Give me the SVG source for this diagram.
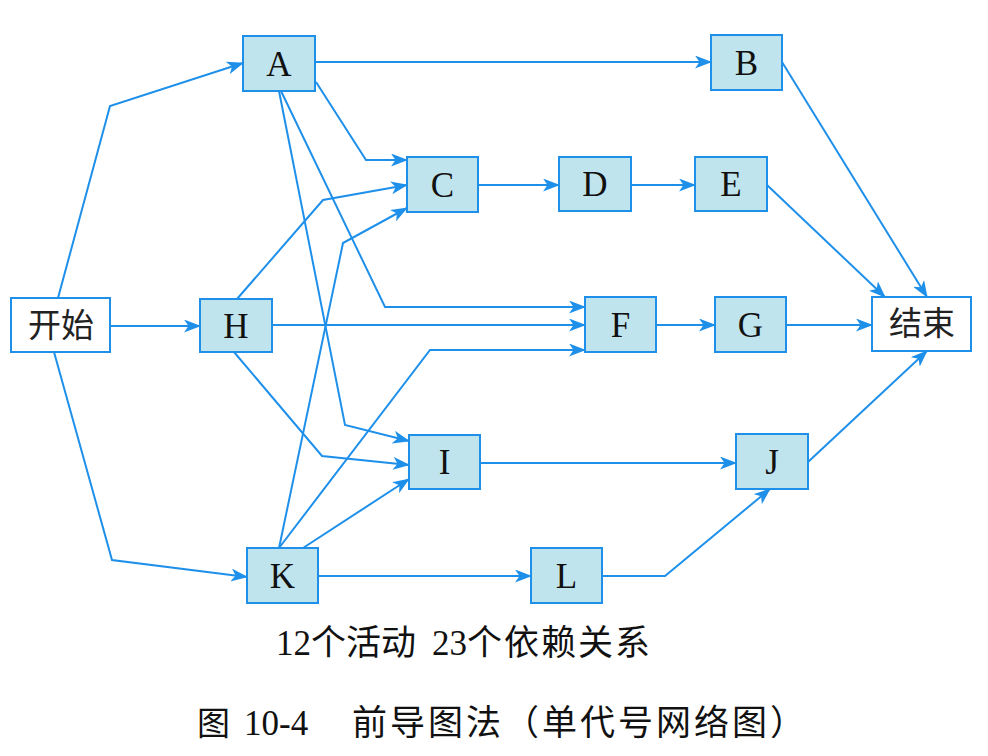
<svg xmlns="http://www.w3.org/2000/svg" width="988" height="756" viewBox="0 0 988 756">
<style>
.node rect{fill:#bfe4ee;stroke:#1f90ea;stroke-width:2}
.term rect{fill:#ffffff;stroke:#1f90ea;stroke-width:2}
.lbl{font-family:"Liberation Serif","Noto Sans CJK SC",serif;font-size:35px;fill:#111;text-anchor:middle}
.cjk{font-family:"Noto Sans CJK SC",sans-serif;font-size:33px;fill:#222;text-anchor:middle}
.edges polyline{fill:none;stroke:#1f90ea;stroke-width:2;marker-end:url(#arr)}
.cap{font-family:"Liberation Serif","Noto Sans CJK SC",serif;font-size:35px;fill:#111}
.capc{font-family:"Noto Sans CJK SC",sans-serif}
</style>
<defs>
<marker id="arr" markerUnits="userSpaceOnUse" markerWidth="17" markerHeight="13" refX="16" refY="6.5" orient="auto">
<path d="M0,0 L17,6.5 L0,13 L4.5,6.5 z" fill="#1f90ea"/>
</marker>
</defs>
<rect width="988" height="756" fill="#ffffff"/>
<g class="edges" id="connectors">
<polyline points="58,298 110,106 243,63"/>
<polyline points="110,326 200,326"/>
<polyline points="54,352 112,560 247,577"/>
<polyline points="315,62 711,62"/>
<polyline points="316,82 366,160 407,160"/>
<polyline points="281,91 385,307 585,307"/>
<polyline points="279,91 345,425 409,441"/>
<polyline points="237,299 323,200 407,185"/>
<polyline points="279,548 343,243 407,208"/>
<polyline points="272,325 585,325"/>
<polyline points="234,352 322,456 409,465"/>
<polyline points="279,548 430,350 585,350"/>
<polyline points="303,548 409,479"/>
<polyline points="318,576 531,576"/>
<polyline points="478,185 559,185"/>
<polyline points="631,185 695,185"/>
<polyline points="782,62 927,297"/>
<polyline points="767,185 885,297"/>
<polyline points="656,325 715,325"/>
<polyline points="786,325 872,325"/>
<polyline points="480,463 736,463"/>
<polyline points="808,462 927,351"/>
<polyline points="602,576 665,576 770,489"/>
</g>
<g id="start" class="term"><rect x="11" y="298" width="99" height="54"/><text class="cjk" x="61" y="337">开始</text></g>
<g id="A" class="node"><rect x="243" y="36" width="72" height="55"/><text class="lbl" x="279" y="76">A</text></g>
<g id="B" class="node"><rect x="711" y="35" width="71" height="55"/><text class="lbl" x="746.5" y="75">B</text></g>
<g id="C" class="node"><rect x="407" y="157" width="71" height="55"/><text class="lbl" x="442.5" y="197">C</text></g>
<g id="D" class="node"><rect x="559" y="157" width="72" height="54"/><text class="lbl" x="595" y="196">D</text></g>
<g id="E" class="node"><rect x="695" y="157" width="72" height="54"/><text class="lbl" x="731" y="196">E</text></g>
<g id="H" class="node"><rect x="200" y="299" width="72" height="53"/><text class="lbl" x="236" y="338">H</text></g>
<g id="F" class="node"><rect x="585" y="297" width="71" height="55"/><text class="lbl" x="620.5" y="337">F</text></g>
<g id="G" class="node"><rect x="715" y="297" width="71" height="55"/><text class="lbl" x="750.5" y="337">G</text></g>
<g id="end" class="term"><rect x="872" y="297" width="99" height="54"/><text class="cjk" x="922" y="335">结束</text></g>
<g id="I" class="node"><rect x="409" y="435" width="71" height="54"/><text class="lbl" x="444.5" y="474">I</text></g>
<g id="J" class="node"><rect x="736" y="434" width="72" height="55"/><text class="lbl" x="772" y="474">J</text></g>
<g id="K" class="node"><rect x="247" y="548" width="71" height="55"/><text class="lbl" x="282.5" y="588">K</text></g>
<g id="L" class="node"><rect x="531" y="548" width="71" height="55"/><text class="lbl" x="566.5" y="588">L</text></g>
<g id="captions">
<text class="cap" y="655"><tspan x="276">12</tspan><tspan class="capc">个活动</tspan><tspan x="432">23</tspan><tspan class="capc" letter-spacing="2">个依赖关系</tspan></text>
<text class="cap" y="735"><tspan class="capc" x="197" font-size="33">图</tspan><tspan x="244">10-4</tspan><tspan class="capc" x="352" letter-spacing="3">前导图法（单代号网络图）</tspan></text>
</g>
</svg>
